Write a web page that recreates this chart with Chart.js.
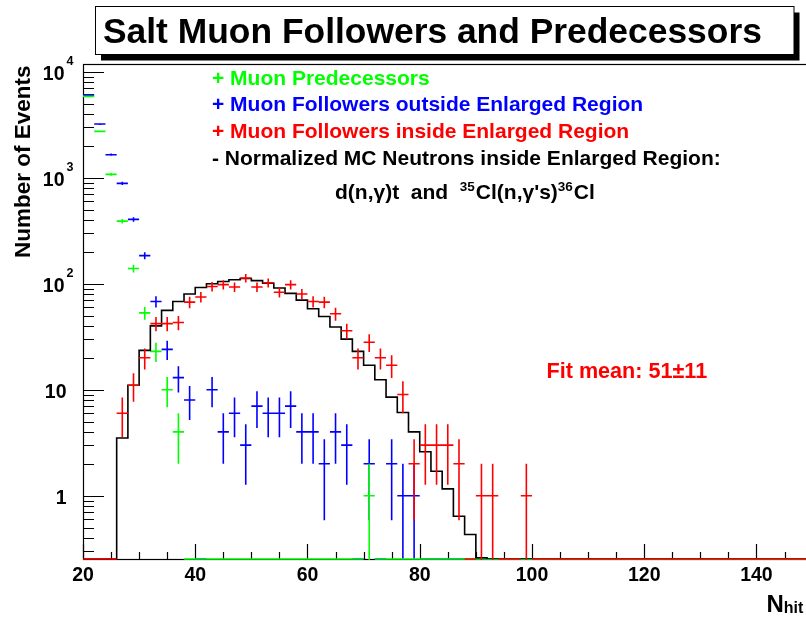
<!DOCTYPE html>
<html>
<head>
<meta charset="utf-8">
<title>Salt Muon Followers and Predecessors</title>
<script src="https://cdn.jsdelivr.net/npm/chart.js@4.4.1/dist/chart.umd.min.js"></script>
<style>
  html, body { margin: 0; padding: 0; background: #ffffff; }
  canvas { display: block; }
</style>
</head>
<body>
<canvas id="nhit" width="806" height="617"></canvas>
<script>
// N_hit bin centres (bins are 2 hits wide)
const binCenters = [
   21,  23,  25,  27,  29,  31,  33,  35,  37,  39,
   41,  43,  45,  47,  49,  51,  53,  55,  57,  59,
   61,  63,  65,  67,  69,  71,  73,  75,  77,  79,
   81,  83,  85,  87,  89,  91,  93,  95,  97,  99,
  101, 103, 105, 107, 109, 111, 113, 115, 117, 119,
  121, 123, 125, 127, 129, 131, 133, 135, 137, 139,
  141, 143, 145, 147, 149
];

// Muon predecessors (counts per bin)
const predecessors = [
  5850, 2733, 1074, 389, 139, 53, 23, 10, 4, 0,
  0, 0, 0, 0, 0, 0, 0, 0, 0, 0,
  0, 0, 0, 0, 0, 1, 0, 0, 0, 0,
  0, 0, 0, 0, 0, 0, 0, 0, 0, 0,
  0, 0, 0, 0, 0, 0, 0, 0, 0, 0,
  0, 0, 0, 0, 0, 0, 0, 0, 0, 0,
  0, 0, 0, 0, 0
];

// Muon followers outside the enlarged region
const followersOutside = [
  6050, 3205, 1648, 884, 404, 184, 68, 24, 13, 8,
  0, 10, 4, 6, 3, 7, 6, 6, 7, 4,
  4, 2, 4, 3, 0, 2, 0, 2, 1, 1,
  0, 0, 0, 0, 0, 0, 0, 0, 0, 0,
  0, 0, 0, 0, 0, 0, 0, 0, 0, 0,
  0, 0, 0, 0, 0, 0, 0, 0, 0, 0,
  0, 0, 0, 0, 0
];

// Muon followers inside the enlarged region
const followersInside = [
  0, 0, 0, 6, 11, 20, 42, 42, 43, 67,
  75, 94, 98, 93, 113, 93, 102, 83, 98, 80,
  68, 67, 52, 36, 20, 28, 20, 17, 9, 2,
  3, 3, 3, 2, 0, 1, 1, 0, 0, 1,
  0, 0, 0, 0, 0, 0, 0, 0, 0, 0,
  0, 0, 0, 0, 0, 0, 0, 0, 0, 0,
  0, 0, 0, 0, 0
];

// Normalized MC neutrons inside the enlarged region
const mcNeutrons = [
  0, 0, 0, 3.5, 11, 23.5, 40, 56, 68, 80,
  92, 100, 105, 109, 112, 107, 101, 91, 81, 70,
  58, 49, 39, 30, 23, 17, 12.4, 8.5, 6.1, 4,
  2.6, 1.7, 1.16, 0.64, 0.43, 0.26, 0, 0, 0, 0,
  0, 0, 0, 0, 0, 0, 0, 0, 0, 0,
  0, 0, 0, 0, 0, 0, 0, 0, 0, 0,
  0, 0, 0, 0, 0
];

// Axis ticks and labels
const xTickValues = [20, 40, 60, 80, 100, 120, 140];
const xTickLabels = ['20', '40', '60', '80', '100', '120', '140'];
const yTickValues = [1, 10, 100, 1000, 10000];
const yTickLabels = ['1', '10', '10^2', '10^3', '10^4'];

const BIN_HALF_WIDTH = 1;
const X_MIN = 20, X_MAX = 148.83;
const Y_FLOOR = 0.2528, Y_CEIL = 11818;

const GREEN = '#00ff00', BLUE = '#0000ff', RED = '#ff0000', BLACK = '#000000';
const FAMILY = '"Liberation Sans", Arial, Helvetica, sans-serif';
const bold = px => `bold ${px}px ${FAMILY}`;

// empty bins sit on the lower frame edge of the log axis
const floorY = v => (v > Y_FLOOR ? v : Y_FLOOR);

const pointsOf = values => binCenters.map((x, i) => ({ x: x, y: values[i] }));

// step outline: one vertex per lower bin edge, closed at the last upper edge
function histogramOutline(values) {
  const pts = binCenters.map((c, i) => ({ x: c - BIN_HALF_WIDTH, y: floorY(values[i]) }));
  const last = binCenters.length - 1;
  pts.push({ x: binCenters[last] + BIN_HALF_WIDTH, y: floorY(values[last]) });
  return pts;
}

// frame with inward ticks, drawn underneath the data
const frameAndTicks = {
  id: 'frameAndTicks',
  beforeDatasetsDraw(chart) {
    const { ctx, chartArea: a, scales: { x, y } } = chart;
    ctx.save();
    ctx.strokeStyle = BLACK;
    ctx.lineWidth = 1.2;
    ctx.strokeRect(a.left + 0.5, a.top + 0.5, a.right - a.left + 4, a.bottom - a.top);

    ctx.beginPath();
    for (let v = X_MIN; v <= X_MAX; v += 5) {
      const px = Math.round(x.getPixelForValue(v)) + 0.5;
      const len = (v % 20 === 0) ? 15 : 7;
      ctx.moveTo(px, a.bottom);
      ctx.lineTo(px, a.bottom - len);
    }
    for (let d = -1; d <= 4; d++) {
      for (let m = 1; m <= 9; m++) {
        const v = m * Math.pow(10, d);
        if (v < Y_FLOOR || v > Y_CEIL) continue;
        const py = Math.round(y.getPixelForValue(v)) + 0.5;
        const len = (m === 1) ? 21 : 11;
        ctx.moveTo(a.left, py);
        ctx.lineTo(a.left + len, py);
      }
    }
    ctx.stroke();
    ctx.restore();
  }
};

// crosses: full bin width horizontally, sqrt(N) vertically
const poissonErrors = {
  id: 'poissonErrors',
  afterDatasetDraw(chart, args) {
    const ds = chart.data.datasets[args.index];
    if (!ds.errorBars) return;
    const { ctx, chartArea: a, scales: { x, y } } = chart;
    ctx.save();
    ctx.beginPath();
    ctx.rect(a.left, a.top, a.right - a.left, a.bottom - a.top + 1);
    ctx.clip();
    ctx.strokeStyle = ds.borderColor;
    ctx.lineWidth = 1.6;
    ctx.beginPath();
    ds.data.forEach(p => {
      const n = p.y;
      const xl = x.getPixelForValue(p.x - BIN_HALF_WIDTH);
      const xr = x.getPixelForValue(p.x + BIN_HALF_WIDTH);
      const xc = x.getPixelForValue(p.x);
      const yc = n > 0 ? y.getPixelForValue(n) : a.bottom;
      ctx.moveTo(xl, yc);
      ctx.lineTo(xr, yc);
      if (n > 0) {
        const e = Math.sqrt(n);
        const lo = n - e > Y_FLOOR ? y.getPixelForValue(n - e) : a.bottom + 2;
        ctx.moveTo(xc, lo);
        ctx.lineTo(xc, y.getPixelForValue(n + e));
      }
    });
    ctx.stroke();
    ctx.restore();
  }
};

// title box, legend text, tick labels and axis titles
const annotations = {
  id: 'annotations',
  afterDraw(chart) {
    const { ctx, scales: { x, y } } = chart;
    ctx.save();
    ctx.textBaseline = 'alphabetic';

    // title box with drop shadow
    const bx = 95.5, by = 6.5, bw = 698.5, bh = 48;
    ctx.fillStyle = BLACK;
    ctx.fillRect(bx + 5.5, by + 6, bw, bh);
    ctx.fillStyle = '#ffffff';
    ctx.fillRect(bx, by, bw, bh);
    ctx.strokeStyle = BLACK;
    ctx.lineWidth = 1;
    ctx.strokeRect(bx, by, bw, bh);
    ctx.fillStyle = BLACK;
    ctx.font = bold(35.4);
    ctx.textAlign = 'left';
    ctx.fillText('Salt Muon Followers and Predecessors', 103, 42.5);

    // x tick labels
    ctx.font = bold(19.5);
    ctx.textAlign = 'center';
    xTickValues.forEach((v, i) => {
      ctx.fillText(xTickLabels[i], x.getPixelForValue(v), 581);
    });

    // y tick labels, powers of ten with raised exponents
    yTickValues.forEach((v, i) => {
      const py = y.getPixelForValue(v);
      const parts = yTickLabels[i].split('^');
      ctx.font = bold(19.5);
      ctx.textAlign = 'right';
      if (parts.length === 1) {
        ctx.fillText(parts[0], 66.5, py + 8.5);
      } else {
        ctx.fillText(parts[0], 64.5, py + 8.5);
        ctx.font = bold(12.5);
        ctx.textAlign = 'left';
        ctx.fillText(parts[1], 66.5, py - 6.5);
      }
    });

    // y axis title
    ctx.save();
    ctx.translate(29.5, 258);
    ctx.rotate(-Math.PI / 2);
    ctx.font = bold(22.5);
    ctx.textAlign = 'left';
    ctx.fillText('Number of Events', 0, 0);
    ctx.restore();

    // x axis title N_hit
    ctx.textAlign = 'left';
    ctx.font = bold(24);
    ctx.fillText('N', 766.5, 611.5);
    const nW = ctx.measureText('N').width;
    ctx.font = bold(16);
    ctx.fillText('hit', 766.5 + nW, 613);

    // legend
    const legendLines = [
      { text: '+ Muon Predecessors', color: GREEN, base: 84.5 },
      { text: '+ Muon Followers outside Enlarged Region', color: BLUE, base: 110.5 },
      { text: '+ Muon Followers inside Enlarged Region', color: RED, base: 137.5 },
      { text: '- Normalized MC Neutrons inside Enlarged Region:', color: BLACK, base: 165 }
    ];
    ctx.font = bold(21);
    legendLines.forEach(l => {
      ctx.fillStyle = l.color;
      ctx.fillText(l.text, 212, l.base);
    });

    // reaction line with raised mass numbers
    const reaction = [
      { t: 'd(n,\u03b3)t  and  ', sup: false },
      { t: '35', sup: true },
      { t: 'Cl(n,\u03b3\'s)', sup: false },
      { t: '36', sup: true },
      { t: 'Cl', sup: false }
    ];
    ctx.fillStyle = BLACK;
    let cx = 335;
    reaction.forEach(seg => {
      ctx.font = seg.sup ? bold(13.5) : bold(21);
      ctx.fillText(seg.t, cx, seg.sup ? 191 : 199);
      cx += ctx.measureText(seg.t).width + (seg.sup ? 1 : 0);
    });

    // fit result
    ctx.fillStyle = RED;
    ctx.font = bold(21.6);
    ctx.fillText('Fit mean: 51\u00b111', 546.5, 377.5);

    ctx.restore();
  }
};

new Chart(document.getElementById('nhit'), {
  type: 'scatter',
  data: {
    datasets: [
      {
        label: 'Muon Followers outside Enlarged Region',
        data: pointsOf(followersOutside),
        borderColor: BLUE, backgroundColor: BLUE,
        pointRadius: 0, showLine: false, errorBars: true, order: 4
      },
      {
        label: 'Muon Predecessors',
        data: pointsOf(predecessors),
        borderColor: GREEN, backgroundColor: GREEN,
        pointRadius: 0, showLine: false, errorBars: true, order: 3
      },
      {
        type: 'line',
        label: 'Normalized MC Neutrons inside Enlarged Region',
        data: histogramOutline(mcNeutrons),
        borderColor: BLACK, borderWidth: 1.6,
        pointRadius: 0, fill: false, stepped: true, tension: 0, order: 2
      },
      {
        label: 'Muon Followers inside Enlarged Region',
        data: pointsOf(followersInside),
        borderColor: RED, backgroundColor: RED,
        pointRadius: 0, showLine: false, errorBars: true, order: 1
      }
    ]
  },
  options: {
    responsive: false,
    animation: false,
    events: [],
    layout: { padding: { left: 83, top: 64, right: 0, bottom: 58 } },
    scales: {
      x: { type: 'linear', min: X_MIN, max: X_MAX, display: false },
      y: { type: 'logarithmic', min: Y_FLOOR, max: Y_CEIL, display: false }
    },
    plugins: {
      legend: { display: false },
      tooltip: { enabled: false },
      title: { display: false }
    }
  },
  plugins: [frameAndTicks, poissonErrors, annotations]
});
</script>
</body>
</html>
